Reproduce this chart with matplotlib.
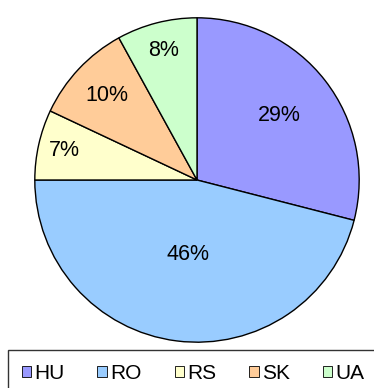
import numpy as np
import matplotlib.pyplot as plt
from matplotlib.patches import Patch

plt.rcParams['font.family'] = ['Liberation Sans', 'DejaVu Sans']

countries = ['HU', 'RO', 'RS', 'SK', 'UA']
shares = [29, 46, 7, 10, 8]
colors = ['#9999FF', '#99CCFF', '#FFFFCC', '#FFCC99', '#CCFFCC']
# how far out each percentage label sits (fraction of radius)
label_dist = [0.645, 0.466, 0.838, 0.764, 0.826]

fig = plt.figure(figsize=(3.74, 3.88), dpi=100)
ax = fig.add_axes([34 / 374, 45 / 388, 326 / 374, 326 / 388])

wedges, _ = ax.pie(shares, colors=colors, startangle=90, counterclock=False,
                   radius=1.0, wedgeprops=dict(edgecolor='black', linewidth=1.0))

for w, val, d in zip(wedges, shares, label_dist):
    mid = np.deg2rad((w.theta1 + w.theta2) / 2)
    ax.text(d * np.cos(mid), d * np.sin(mid), f'{val}%',
            ha='center', va='center', fontsize=15.5)

ax.set_xlim(-1.005, 1.005)
ax.set_ylim(-1.005, 1.005)
ax.set_aspect('equal')
ax.axis('off')

# legend box runs off the right edge of the figure
handles = [Patch(facecolor=c, edgecolor='black', linewidth=0.6) for c in colors]
leg = fig.legend(handles, countries, loc='upper left', ncol=5, mode='expand',
                 bbox_to_anchor=(8 / 374, 0, 370 / 374, 1 - 350 / 388),
                 fontsize=15, handlelength=0.45, handleheight=0.45,
                 handletextpad=0.15, borderaxespad=0,
                 fancybox=False, frameon=True, borderpad=0.65)
leg.get_frame().set_edgecolor('black')
leg.get_frame().set_linewidth(1.0)

fig.savefig('out.png', dpi=100)
